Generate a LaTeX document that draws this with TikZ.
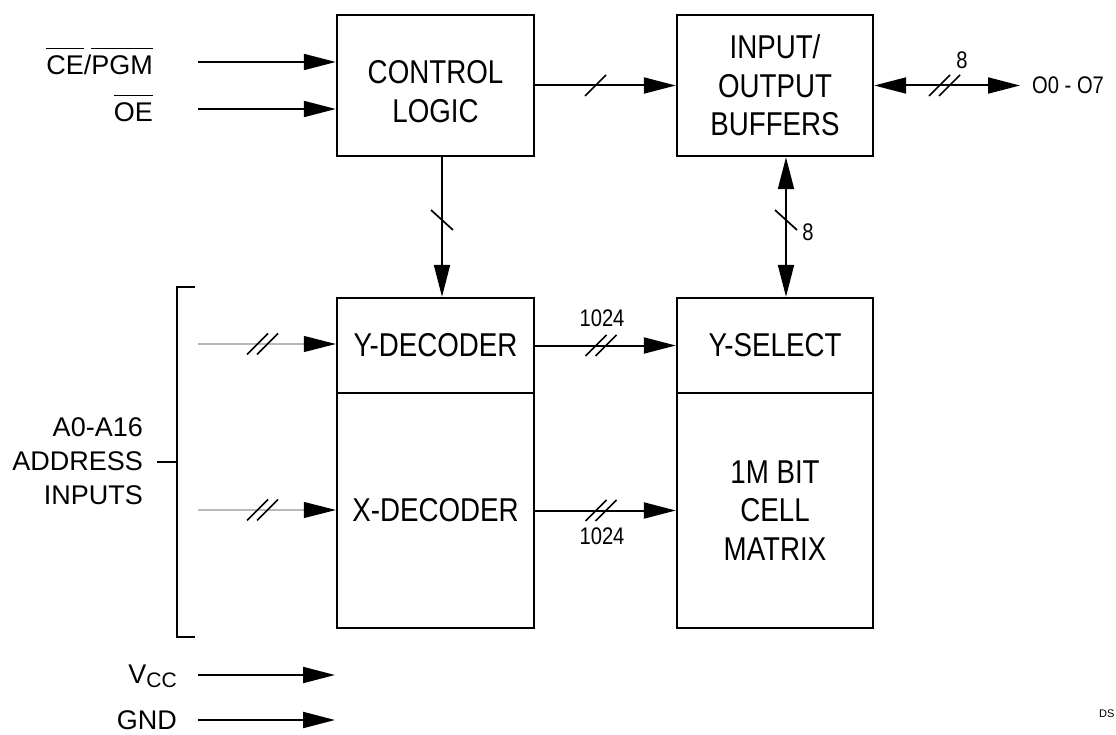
\documentclass[tikz,border=0pt]{standalone}
\usepackage{fontspec}
\setmainfont{Liberation Sans}
\newfontfamily\narrowfont{Liberation Sans}[FakeStretch=0.84]
\usetikzlibrary{arrows.meta,positioning}

\tikzset{
  blk/.style={draw, line width=2.4pt, minimum width=197pt, inner sep=0pt,
    align=center, font=\narrowfont\fontsize{33}{38.5}\selectfont},
  sig/.style={line width=2pt, -{Triangle[length=32pt,width=16pt]}},
  sigboth/.style={line width=2pt, {Triangle[length=32pt,width=16pt]}-{Triangle[length=32pt,width=16pt]}},
  addrin/.style={gray!55, line width=1.2pt, -{Triangle[length=32pt,width=16pt,color=black]}},
  lbl/.style={inner sep=0pt, font=\fontsize{27}{34}\selectfont},
  num/.style={inner sep=0pt, font=\narrowfont\fontsize{24}{24}\selectfont},
}

% bus marks
\newcommand{\busone}[2]{\draw[line width=1.7pt] (#1-10.5,#2+10.5) -- (#1+10.5,#2-10.5);}
\newcommand{\bustwo}[2]{\busone{#1-5}{#2}\busone{#1+5}{#2}}
\newcommand{\busvert}[2]{\draw[line width=1.7pt] (#1-11,#2-10) -- (#1+11,#2+10);}
% active-low signal name
\newcommand{\lowsig}[1]{$\overline{\mbox{#1}\rule{0pt}{25pt}}$}

\begin{document}
\begin{tikzpicture}[x=1pt, y=-1pt]
    \useasboundingbox (0,0) rectangle (1116,735);

    % Blocks
    \node[blk, minimum height=141pt] (ctrl) at (435.5,85.5) {\rule{0pt}{35pt}CONTROL\\LOGIC};
    \node[blk, minimum height=141pt, minimum width=196pt] (iobuf) at (775,85.5) {INPUT/\\OUTPUT\\BUFFERS};
    \node[blk, minimum height=95pt] (ydec) at (435.5,345.5) {Y-DECODER};
    \node[blk, minimum height=235pt] (xdec) at (435.5,510.5) {X-DECODER};
    \node[blk, minimum height=95pt, minimum width=196pt] (ysel) at (775,345.5) {Y-SELECT};
    \node[blk, minimum height=235pt, minimum width=196pt] (cells) at (775,510.5) {1M BIT\\CELL\\MATRIX};

    % Control inputs
    \node[lbl, anchor=base east] (celbl) at (153,75) {\lowsig{CE}/\lowsig{PGM}};
    \node[lbl, anchor=base east] (oelbl) at (153,122) {\lowsig{OE}};
    \coordinate (cein) at (198,62);
    \coordinate (oein) at (198,109);
    \draw[sig] (cein) -- (cein -| ctrl.west);
    \draw[sig] (oein) -- (oein -| ctrl.west);

    % Control to buffers and decoder
    \draw[sig] (ctrl.east) -- (iobuf.west);
    \busone{595.5}{85.5}
    \draw[sig] ([xshift=6.5pt]ctrl.south) -- ([xshift=6.5pt]ydec.north);
    \busvert{442}{220}

    % Buffers to cell array and outputs
    \draw[sigboth] ([xshift=11pt]iobuf.south) -- ([xshift=11pt]ysel.north);
    \busvert{786}{220}
    \node[num] (nio) at (808,232) {8};
    \coordinate (dout) at (1020,85.5);
    \draw[sigboth] (iobuf.east) -- (dout);
    \bustwo{944.5}{85.5}
    \node[num] (nout) at (962,60) {8};
    \node[num, anchor=west] (outlbl) at (1032,85.5) {O0 - O7};

    % Decoders to cell array
    \draw[sig] (ydec.east) -- (ysel.west);
    \bustwo{601}{345.5}
    \node[num] (ny) at (602,318) {1024};
    \draw[sig] (xdec.east) -- (cells.west);
    \bustwo{601}{510.5}
    \node[num] (nx) at (602,536) {1024};

    % Address inputs
    \coordinate (yin) at (198,344);
    \coordinate (xin) at (198,510);
    \draw[addrin] (yin) -- (yin -| ydec.west);
    \draw[addrin] (xin) -- (xin -| xdec.west);
    \bustwo{262.5}{344}
    \bustwo{262.5}{510}
    \draw[line width=2pt] (195,287) -- (177,287) -- (177,637) -- (195,637);
    \node[lbl, anchor=east, align=right] (addr) at (143,461) {A0-A16\\ADDRESS\\INPUTS};
    \draw[line width=2pt] (157,462) -- (177,462);

    % Supply
    \node[lbl, anchor=base east] (vcc) at (177,683) {V\raisebox{-4pt}{\fontsize{21}{21}\selectfont CC}};
    \node[lbl, anchor=base east] (gnd) at (177,729) {GND};
    \coordinate (vccin) at (198,675);
    \coordinate (gndin) at (198,720);
    \draw[sig] (vccin) -- (335,675);
    \draw[sig] (gndin) -- (335,720);

    \node[anchor=west, inner sep=0pt, font=\fontsize{11}{11}\selectfont] (dsno) at (1099,714) {DS};
\end{tikzpicture}
\end{document}
